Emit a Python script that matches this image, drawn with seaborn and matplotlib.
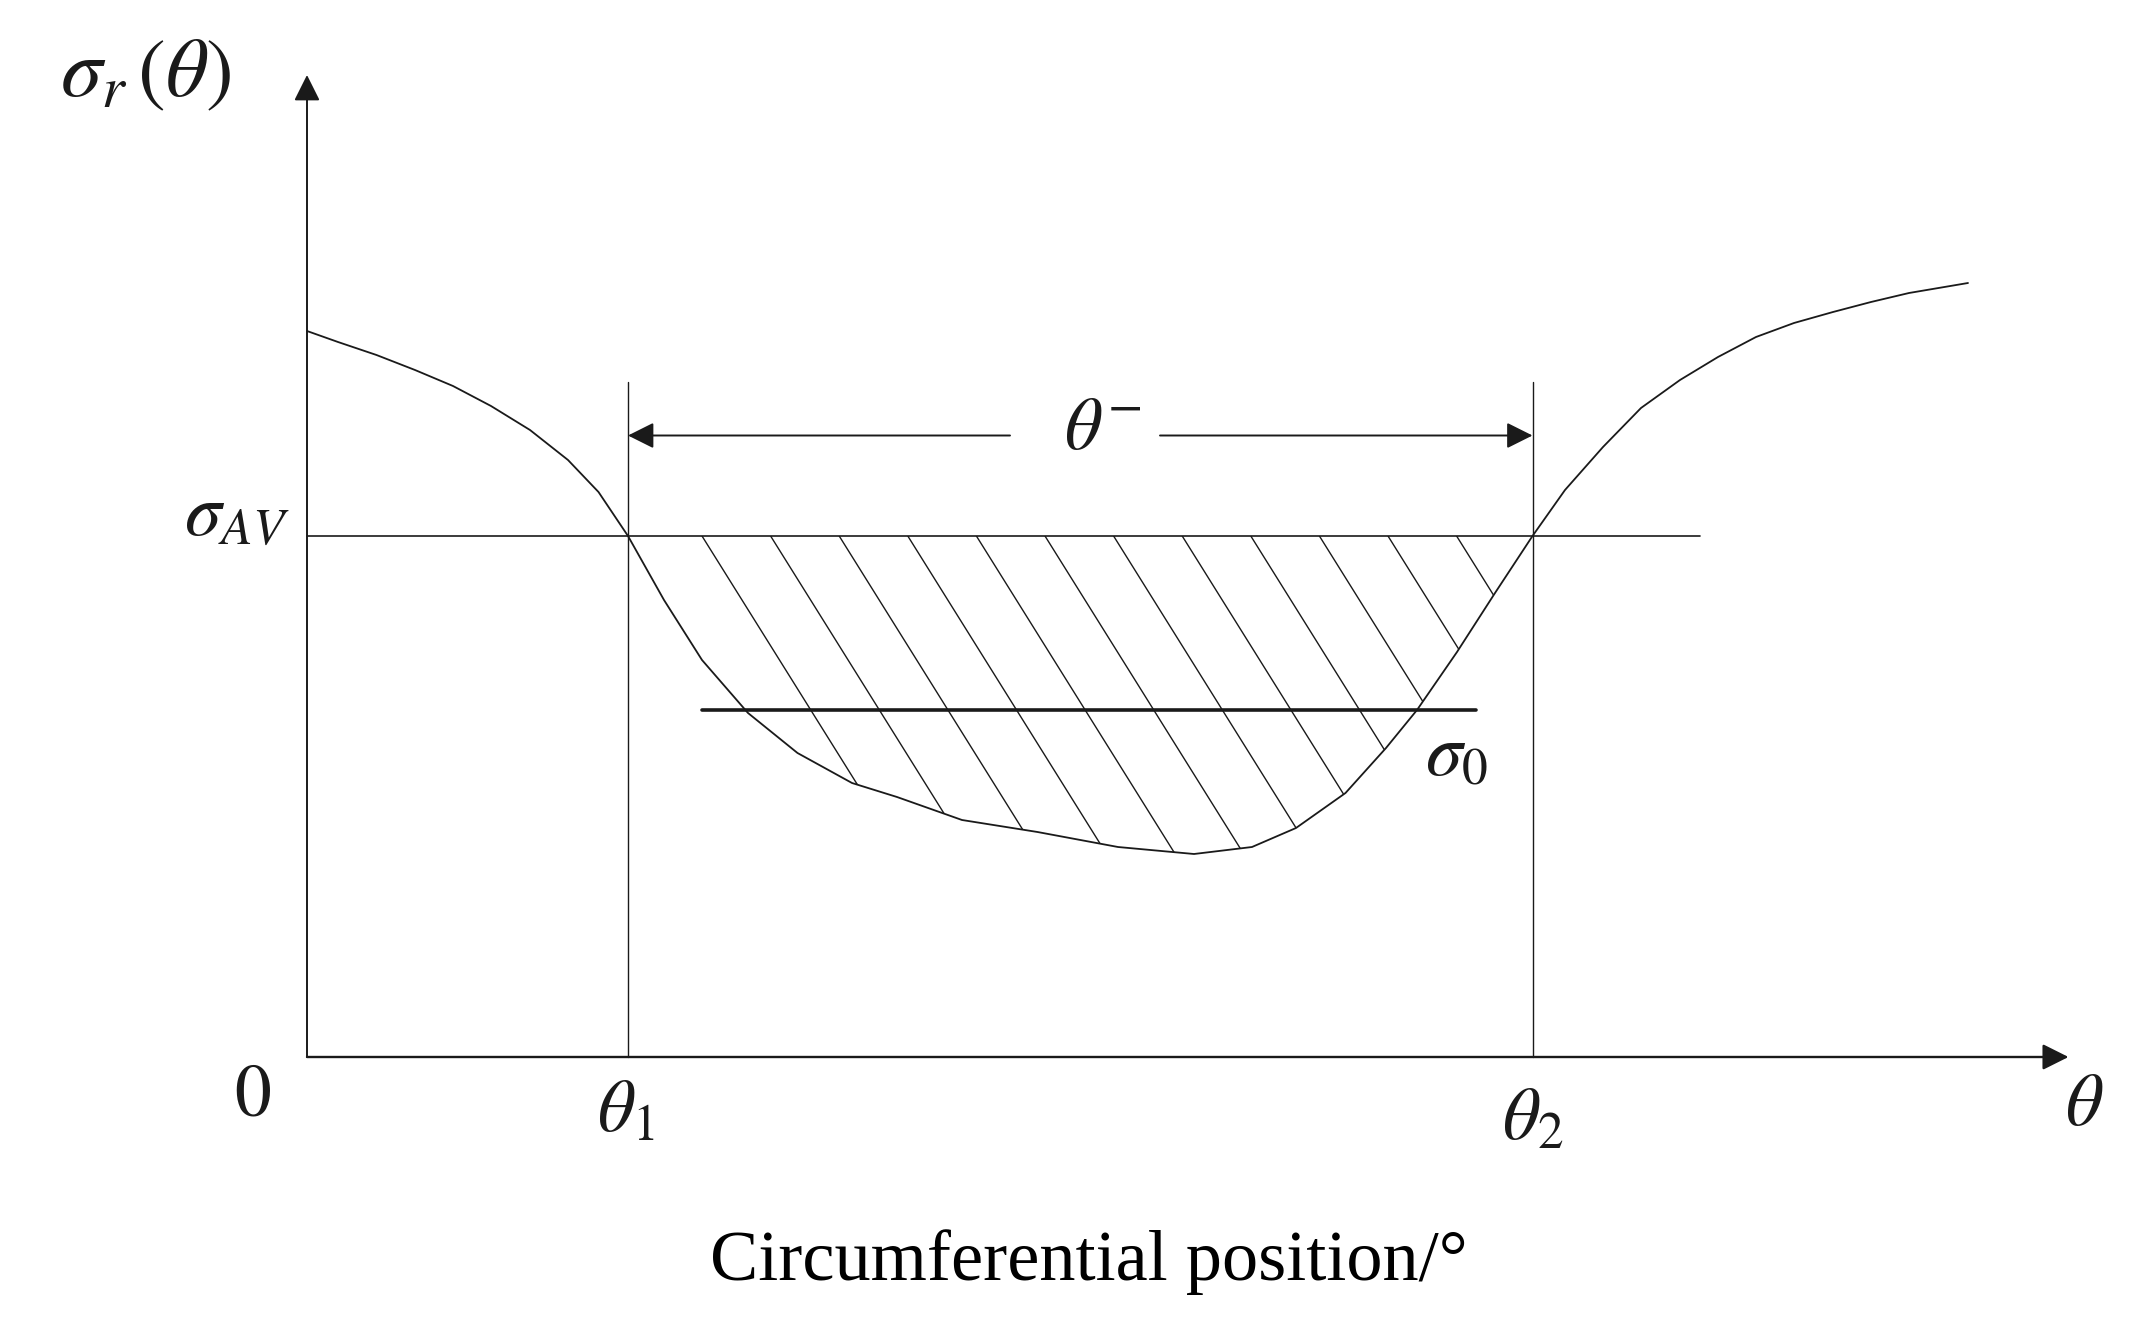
import numpy as np
import pandas as pd
import matplotlib
matplotlib.use("Agg")
import matplotlib.pyplot as plt
import seaborn as sns

# ---- data (1 unit = 10 px of the reference) ----
theta = [0.0, 3.1, 6.95, 10.8, 14.6, 18.4, 22.3, 26.1, 29.15, 32.1, 35.7, 39.5,
         44.1, 49.05, 54.5, 59.0, 65.5, 73.05, 81.1, 88.7, 94.5, 98.9, 103.85,
         107.9, 111.0, 115.0, 118.8, 122.55, 125.8, 129.6, 133.4, 137.3, 141.1,
         144.9, 148.7, 152.6, 156.4, 160.2, 166.1]
sigma = [72.6, 71.5, 70.2, 68.7, 67.1, 65.1, 62.7, 59.7, 56.5, 52.1, 45.7, 39.7,
         34.4, 30.4, 27.4, 26.0, 23.7, 22.5, 21.0, 20.3, 21.0, 22.9, 26.4,
         30.9, 34.7, 40.5, 46.4, 52.1, 56.7, 61.0, 64.9, 67.7, 70.0,
         72.0, 73.4, 74.5, 75.5, 76.4, 77.4]
sigma_av = 52.1
sigma_0 = 34.7
theta_1 = 32.1
theta_2 = 122.55
sigma0_start, sigma0_end = 39.5, 116.9

df = pd.DataFrame({"theta": theta, "sigma": sigma})

# ---- styling ----
sns.set_theme(style="white")
plt.rcParams["font.family"] = ["Liberation Serif", "DejaVu Serif"]
plt.rcParams["mathtext.fontset"] = "stix"

W, H = 2148, 1318
fig = plt.figure(figsize=(W / 100, H / 100), dpi=100)
ax = fig.add_axes([0, 0, 1, 1])
ax.set_xlim(-30.7, 184.1)
ax.set_ylim(-26.1, 105.7)
ax.axis("off")

ink = "#1a1a1a"
arrow_style = "-|>,head_length=0.8,head_width=0.4"


def arrow(xy, xytext, lw=1.4):
    ax.annotate("", xy=xy, xytext=xytext,
                arrowprops=dict(arrowstyle=arrow_style, mutation_scale=20, lw=lw,
                                color=ink, shrinkA=0, shrinkB=0))


# axes with arrows
arrow((176.15, 0), (0, 0), lw=1.7)
arrow((0, 98.2), (0, 0), lw=1.4)

# sigma_AV line
ax.plot([0, 139.3], [sigma_av, sigma_av], color=ink, lw=1.2)
# theta1 / theta2 verticals
ax.plot([theta_1, theta_1], [0, 67.55], color=ink, lw=1.0)
ax.plot([theta_2, theta_2], [0, 67.55], color=ink, lw=1.0)

# theta^- dimension arrows
y_dim = 62.15
arrow((theta_1, y_dim), (70.3, y_dim))
arrow((theta_2, y_dim), (85.3, y_dim))

# hatched region between sigma_AV and the curve
th = np.array(theta)
sg = np.array(sigma)
m = (th >= theta_1) & (th <= theta_2)
poly = ax.fill_between(th[m], sg[m], sigma_av, facecolor="none", edgecolor="none")
clip_path = poly.get_paths()[0]
slope = 0.625
for k in range(12):
    xt = 39.5 + 6.86 * k
    t = np.array([0.0, 45.0])
    ln, = ax.plot(xt + slope * t, sigma_av - t, color=ink, lw=1.0)
    ln.set_clip_path(clip_path, ax.transData)

# the curve
sns.lineplot(data=df, x="theta", y="sigma", ax=ax, color=ink, lw=1.3,
             estimator=None, sort=True, legend=False)

# sigma_0 line
ax.plot([sigma0_start, sigma0_end], [sigma_0, sigma_0], color=ink, lw=2.6)

# labels
fs = 53
ax.text(-16.1, 98.0, r"$\sigma_r\,(\theta)$", fontsize=60, ha="center", va="center", color=ink)
ax.text(-1.7, sigma_av, r"$\sigma_{AV}$", fontsize=fs, ha="right", va="baseline", color=ink)
ax.text(79.6, 62.6, r"$\theta^{-}$", fontsize=fs, ha="center", va="center", color=ink)
ax.text(115.0, 29.9, r"$\sigma_0$", fontsize=fs, ha="center", va="center", color=ink)
ax.text(-5.4, -4.05, r"$0$", fontsize=fs, ha="center", va="center", color=ink)
ax.text(31.9, -5.65, r"$\theta_1$", fontsize=fs, ha="center", va="center", color=ink)
ax.text(122.55, -6.45, r"$\theta_2$", fontsize=fs, ha="center", va="center", color=ink)
ax.text(177.7, -5.0, r"$\theta$", fontsize=fs, ha="center", va="center", color=ink)
ax.text(78.2, -20.5, "Circumferential position/°", fontsize=52, ha="center",
        va="center", color="black")

fig.savefig("out.png", dpi=100)
